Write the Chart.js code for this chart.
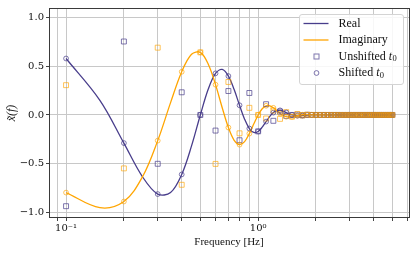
<!DOCTYPE html>
<html>
<head>
<meta charset="utf-8">
<script src="https://cdn.jsdelivr.net/npm/chart.js@4.4.1/dist/chart.umd.min.js"></script>
<style>
  html, body { margin: 0; padding: 0; background: #fff; }
</style>
</head>
<body>
<canvas id="chart" width="415" height="254"></canvas>
<script>
// smooth curve
const curveFreq = [0.1, 0.15, 0.2, 0.25, 0.3, 0.35, 0.4, 0.45, 0.5, 0.55, 0.6, 0.65, 0.7, 0.75, 0.8, 0.85, 0.9, 0.95,
    1.0, 1.05, 1.1, 1.15, 1.2, 1.25, 1.3, 1.35, 1.4, 1.45, 1.5, 1.55, 1.6, 1.65, 1.7, 1.75, 1.8, 1.85, 1.9, 1.95, 2.0,
    2.5, 3.0, 3.5, 4.0, 4.5, 5.0];
const curveReal = [0.578, 0.150, -0.288, -0.633, -0.810, -0.794, -0.609, -0.317, 0.0, 0.265, 0.426, 0.466, 0.398, 0.260,
    0.099, -0.043, -0.139, -0.179, -0.169, -0.125, -0.068, -0.015, 0.024, 0.044, 0.047, 0.039, 0.025, 0.011, 0.0,
    -0.006, -0.008, -0.008, -0.006, -0.003, -0.001, 0.0, 0.001, 0.0, 0.0, 0, 0, 0, 0, 0, 0];
const curveImag = [-0.795, -0.949, -0.886, -0.633, -0.263, 0.126, 0.442, 0.621, 0.641, 0.520, 0.310, 0.074, -0.129, -0.260,
    -0.304, -0.273, -0.191, -0.091, 0.0, 0.064, 0.094, 0.094, 0.073, 0.044, 0.015, -0.006, -0.018, -0.021, -0.018,
    -0.012, -0.006, -0.001, 0.002, 0.003, 0.003, 0.002, 0.001, 0.0, 0.0, 0, 0, 0, 0, 0, 0];

// sampled frequencies (markers)
const sampleFreq = [0.1, 0.2, 0.3, 0.4, 0.5, 0.6, 0.7, 0.8, 0.9, 1.0, 1.1, 1.2, 1.3, 1.4, 1.5, 1.6, 1.7, 1.8, 1.9, 2.0,
    2.1, 2.2, 2.3, 2.4, 2.5, 2.6, 2.7, 2.8, 2.9, 3.0, 3.1, 3.2, 3.3, 3.4, 3.5, 3.6, 3.7, 3.8, 3.9, 4.0,
    4.1, 4.2, 4.3, 4.4, 4.5, 4.6, 4.7, 4.8, 4.9, 5.0];
const unshiftedReal = [-0.934, 0.752, -0.500, 0.232, 0.0, -0.160, 0.245, -0.259, 0.225, -0.168, 0.110, -0.060, 0.035,
    -0.010, 0.0, 0.003, -0.003, 0.002, 0, 0, 0, 0, 0, 0, 0, 0, 0, 0, 0, 0, 0, 0, 0, 0, 0, 0, 0, 0, 0, 0,
    0, 0, 0, 0, 0, 0, 0, 0, 0, 0];
const unshiftedImag = [0.305, -0.547, 0.689, -0.715, 0.641, -0.501, 0.338, -0.188, 0.073, 0.0, -0.036, 0.045, -0.040,
    0.029, -0.018, 0.010, -0.005, 0.002, 0, 0, 0, 0, 0, 0, 0, 0, 0, 0, 0, 0, 0, 0, 0, 0, 0, 0, 0, 0, 0, 0,
    0, 0, 0, 0, 0, 0, 0, 0, 0, 0];
const shiftedReal = [0.578, -0.288, -0.810, -0.609, 0.0, 0.426, 0.398, 0.099, -0.139, -0.169, -0.068, 0.024, 0.047,
    0.025, 0.0, -0.008, -0.006, -0.001, 0.001, 0, 0, 0, 0, 0, 0, 0, 0, 0, 0, 0, 0, 0, 0, 0, 0, 0, 0, 0, 0, 0,
    0, 0, 0, 0, 0, 0, 0, 0, 0, 0];
const shiftedImag = [-0.795, -0.886, -0.263, 0.442, 0.641, 0.310, -0.129, -0.304, -0.191, 0.0, 0.094, 0.073, 0.015,
    -0.018, -0.018, -0.006, 0.002, 0.003, 0.001, 0, 0, 0, 0, 0, 0, 0, 0, 0, 0, 0, 0, 0, 0, 0, 0, 0, 0, 0, 0, 0,
    0, 0, 0, 0, 0, 0, 0, 0, 0, 0];

// axes
const xGrid = [0.09, 0.1, 0.2, 0.3, 0.4, 0.5, 0.6, 0.7, 0.8, 0.9, 1, 2, 3, 4, 5, 6];
const xTickVals = [0.1, 1];
const xTickText = ['10⁻¹', '10⁰'];
const yTicks = [-1, -0.5, 0, 0.5, 1];
const yTickText = ['−1.0', '−0.5', '0.0', '0.5', '1.0'];

const blue = 'rgb(72, 61, 139)';
const blueSoft = 'rgba(72, 61, 139, 0.7)';
const orange = 'rgb(255, 165, 0)';
const orangeSoft = 'rgba(255, 165, 0, 0.65)';
const serif = '"Liberation Serif", serif';
const tickFont = { family: '"DejaVu Serif", serif', size: 10 };

function pts(xs, ys) {
    return xs.map((x, i) => ({ x: x, y: ys[i] }));
}

const framePlugin = {
    id: 'frame',
    afterDatasetsDraw(chart) {
        const { ctx, chartArea: a } = chart;
        ctx.save();
        ctx.strokeStyle = '#3a3a3a';
        ctx.lineWidth = 1;
        const l = Math.round(a.left) + 0.5, t = Math.round(a.top) + 0.5;
        const r = Math.round(a.right) + 0.5, b = Math.round(a.bottom) - 0.5;
        ctx.strokeRect(l, t, r - l, b - t);
        ctx.restore();
    }
};

const legendPlugin = {
    id: 'boxLegend',
    afterDraw(chart) {
        const { ctx, chartArea: a } = chart;
        const w = 104, h = 70;
        const x0 = Math.round(a.right) - 6 - w, y0 = Math.round(a.top) + 6;
        ctx.save();
        ctx.beginPath();
        ctx.roundRect(x0 + 0.5, y0 + 0.5, w, h, 2.5);
        ctx.fillStyle = 'rgba(255, 255, 255, 0.85)';
        ctx.fill();
        ctx.strokeStyle = '#d4d4d4';
        ctx.lineWidth = 1;
        ctx.stroke();

        const rowY = i => y0 + 9.5 + i * 16.5;
        const textX = x0 + 39.5;
        ctx.textBaseline = 'middle';
        ctx.fillStyle = '#111';

        // line entries
        [[blue, 'Real'], [orange, 'Imaginary']].forEach(([c, label], i) => {
            ctx.beginPath();
            ctx.moveTo(x0 + 4.5, rowY(i));
            ctx.lineTo(x0 + 29.5, rowY(i));
            ctx.strokeStyle = c;
            ctx.lineWidth = 1.3;
            ctx.stroke();
            ctx.font = '12px ' + serif;
            ctx.fillText(label, textX, rowY(i));
        });

        // marker entries
        ctx.strokeStyle = blueSoft;
        ctx.lineWidth = 1;
        ctx.strokeRect(x0 + 15, rowY(2) - 2.5, 5, 5);
        ctx.beginPath();
        ctx.arc(x0 + 17.5, rowY(3), 2.4, 0, Math.PI * 2);
        ctx.stroke();

        ['Unshifted ', 'Shifted '].forEach((label, i) => {
            const y = rowY(i + 2);
            ctx.font = '12px ' + serif;
            ctx.fillText(label, textX, y);
            let x = textX + ctx.measureText(label).width;
            ctx.font = 'italic 12px ' + serif;
            ctx.fillText('t', x, y);
            x += ctx.measureText('t').width;
            ctx.font = '8.5px ' + serif;
            ctx.fillText('0', x + 0.3, y + 2.5);
        });
        ctx.restore();
    }
};

new Chart(document.getElementById('chart'), {
    type: 'scatter',
    data: {
        datasets: [
            {
                label: 'Real',
                data: pts(curveFreq, curveReal),
                showLine: true,
                borderColor: blue,
                borderWidth: 1.3,
                pointRadius: 0,
                tension: 0.35,
                order: 6
            },
            {
                label: 'Imaginary',
                data: pts(curveFreq, curveImag),
                showLine: true,
                borderColor: orange,
                borderWidth: 1.3,
                pointRadius: 0,
                tension: 0.35,
                order: 5
            },
            {
                label: 'Unshifted (real)',
                data: pts(sampleFreq, unshiftedReal),
                pointStyle: 'rect',
                pointRadius: 3.5,
                pointBorderWidth: 1,
                borderColor: blueSoft,
                backgroundColor: 'transparent',
                order: 4
            },
            {
                label: 'Unshifted (imag)',
                data: pts(sampleFreq, unshiftedImag),
                pointStyle: 'rect',
                pointRadius: 3.5,
                pointBorderWidth: 1,
                borderColor: orangeSoft,
                backgroundColor: 'transparent',
                order: 3
            },
            {
                label: 'Shifted (real)',
                data: pts(sampleFreq, shiftedReal),
                pointStyle: 'circle',
                pointRadius: 2.4,
                pointBorderWidth: 1,
                borderColor: blueSoft,
                backgroundColor: 'transparent',
                order: 2
            },
            {
                label: 'Shifted (imag)',
                data: pts(sampleFreq, shiftedImag),
                pointStyle: 'circle',
                pointRadius: 2.4,
                pointBorderWidth: 1,
                borderColor: orangeSoft,
                backgroundColor: 'transparent',
                order: 1
            }
        ]
    },
    options: {
        responsive: false,
        animation: false,
        events: [],
        layout: { padding: { top: 5, right: 6, left: 0, bottom: 0 } },
        plugins: {
            legend: { display: false },
            tooltip: { enabled: false }
        },
        scales: {
            x: {
                type: 'logarithmic',
                min: 0.0815,
                max: 6.1,
                afterBuildTicks: s => { s.ticks = xGrid.map(v => ({ value: v })); },
                afterFit: s => { s.height = 36; },
                ticks: {
                    autoSkip: false,
                    maxRotation: 0,
                    padding: 1,
                    color: '#111',
                    font: tickFont,
                    callback: v => {
                        const i = xTickVals.indexOf(v);
                        return i < 0 ? '' : xTickText[i];
                    }
                },
                grid: { color: '#c8c8c8', lineWidth: 1, tickLength: 3, tickColor: '#444' },
                border: { display: false },
                title: {
                    display: true,
                    text: 'Frequency [Hz]',
                    color: '#111',
                    font: { family: serif, size: 11 },
                    padding: { top: 0, bottom: 5 }
                }
            },
            y: {
                min: -1.055,
                max: 1.095,
                afterBuildTicks: s => { s.ticks = yTicks.map(v => ({ value: v })); },
                afterFit: s => { s.width = 49; },
                ticks: {
                    padding: 2,
                    color: '#111',
                    font: tickFont,
                    callback: v => yTickText[yTicks.indexOf(v)]
                },
                grid: { color: '#c8c8c8', lineWidth: 1, tickLength: 3, tickColor: '#444' },
                border: { display: false },
                title: {
                    display: true,
                    text: 'x\u0303(f)',
                    color: '#111',
                    font: { family: serif, size: 12, style: 'italic' },
                    padding: { top: 5, bottom: 0 }
                }
            }
        }
    },
    plugins: [framePlugin, legendPlugin]
});
</script>
</body>
</html>
